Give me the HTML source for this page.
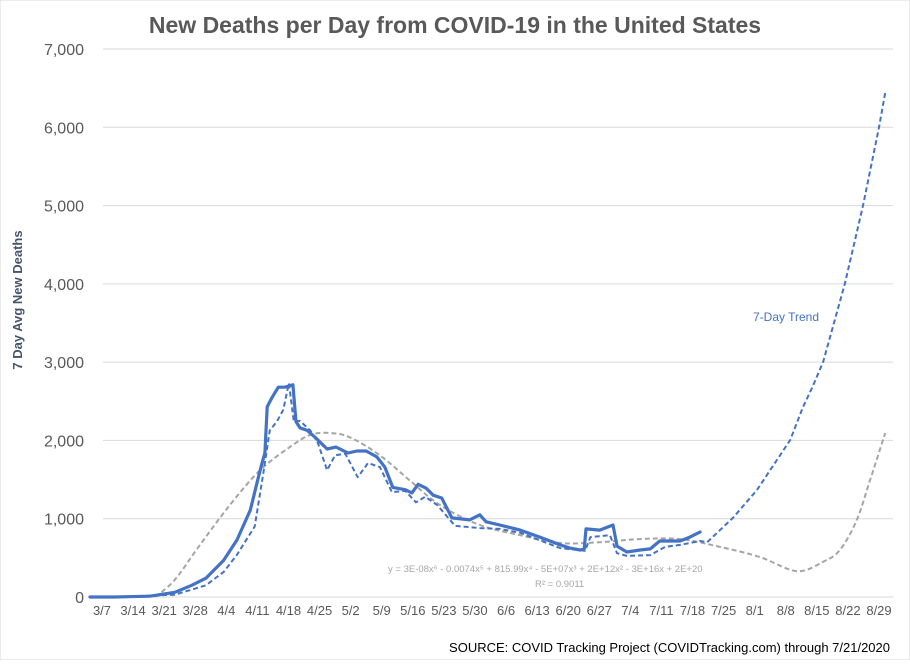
<!DOCTYPE html>
<html><head><meta charset="utf-8"><style>
body{margin:0;background:#fff;font-family:"Liberation Sans",sans-serif;}
svg text{font-family:"Liberation Sans",sans-serif;}
</style></head><body>
<svg id="chart" width="910" height="660" xmlns="http://www.w3.org/2000/svg">
<rect width="910" height="660" fill="#fff" stroke="#d9d9d9"/>
<text x="455" y="33" text-anchor="middle" font-size="23" font-weight="bold" fill="#595959">New Deaths per Day from COVID-19 in the United States</text>
<text transform="translate(22,300) rotate(-90)" text-anchor="middle" font-size="13" font-weight="bold" fill="#44546a">7 Day Avg New Deaths</text>
<g id="grid"></g><g id="yticks"></g><g id="xticks"></g><g id="series"></g>
<text x="753" y="321" font-size="12" fill="#4472c4">7-Day Trend</text>
<text x="388" y="572" font-size="9.5" fill="#a6a6a6">y = 3E-08x⁶ - 0.0074x⁵ + 815.99x⁴ - 5E+07x³ + 2E+12x² - 3E+16x + 2E+20</text>
<text x="535" y="587" font-size="9.5" fill="#a6a6a6">R² = 0.9011</text>
<text x="890" y="652" text-anchor="end" font-size="13" fill="#000">SOURCE: COVID Tracking Project (COVIDTracking.com) through 7/21/2020</text>
</svg>
<script>
const yTicks=[0,1000,2000,3000,4000,5000,6000,7000];
const xLabels=["3/7","3/14","3/21","3/28","4/4","4/11","4/18","4/25","5/2","5/9","5/16","5/23","5/30","6/6","6/13","6/20","6/27","7/4","7/11","7/18","7/25","8/1","8/8","8/15","8/22","8/29"];
const avgDays=[-2.7,2.7,10.8,16.4,20.2,23.4,27.4,30.4,33.4,35.1,36.0,36.7,37.2,38.3,39.7,41.2,43.0,43.7,44.6,46.2,48.0,50.7,52.7,55.4,57.4,59.5,61.9,63.7,65.5,68.3,69.8,71.2,73.0,74.6,76.5,78.8,82.8,85.1,86.5,89.6,94.2,98.6,103.2,105.4,107.7,108.6,109.0,112.1,115.1,116.0,118.2,121.2,123.5,125.6,130.2,132.4,134.7];
const avgVals=[0,0,10,60,150,240,470,730,1110,1500,1700,1840,2430,2550,2680,2680,2710,2240,2160,2130,2040,1890,1915,1840,1865,1865,1790,1660,1400,1370,1330,1440,1390,1300,1265,1010,985,1050,960,920,855,765,665,625,600,610,870,855,920,650,575,600,615,715,715,765,830];
const trendDays=[2.7,16.4,23.4,27.4,30.4,34.4,36.2,37.8,39.4,40.8,42.1,43.2,44.6,46.9,48.6,50.7,52.5,54.8,57.6,59.9,62.6,65.3,68.3,70.7,72.8,75.5,79.5,85.1,89.6,94.2,103.2,108.8,110.0,114.4,116.0,118.2,123.5,126.8,130.2,134.7,136.3,142.1,147.5,152,155,157.9,159.9,162.4,167.3,171.4,175,176.4];
const trendVals=[0,30,150,320,540,900,1530,2130,2240,2390,2730,2240,2250,2130,1970,1620,1810,1830,1530,1710,1660,1340,1355,1210,1280,1175,910,880,870,820,625,590,765,790,560,525,535,640,665,715,700,1010,1365,1750,2005,2430,2670,3000,4000,5000,6000,6440];
const polyDays=[12.0,16.4,22.0,28.8,35.6,42.3,46.9,51.3,55.8,62.6,69.3,76.1,85.1,94.2,103.2,112.1,121.2,130.2,139.2,148.2,156.5,162.4,166.2,170,173,176.4];
const polyVals=[0,220,660,1175,1620,1915,2070,2095,2040,1810,1490,1175,920,790,690,700,740,740,640,510,330,450,600,985,1495,2095];
const NS="http://www.w3.org/2000/svg";
const X=d=>102+d*4.44, Y=v=>597-v*(548/7000);
function mk(t,a,p){const e=document.createElementNS(NS,t);for(const k in a)e.setAttribute(k,a[k]);p.appendChild(e);return e;}
const g=document.getElementById('grid'),yt=document.getElementById('yticks'),xt=document.getElementById('xticks'),s=document.getElementById('series');
yTicks.forEach(v=>{
 const l=mk('line',{x1:103,x2:893,y1:Y(v),y2:Y(v),stroke:'#d9d9d9','stroke-width':1},g);
 
 
 const t=mk('text',{x:84,y:Y(v)+6,'text-anchor':'end','font-size':16,fill:'#595959'},yt);
 t.textContent=v.toLocaleString('en-US');
 
 
});
xLabels.forEach((lab,i)=>{
 const t=mk('text',{x:X(i*7),y:615,'text-anchor':'middle','font-size':13,fill:'#595959'},xt);
 t.textContent=lab;
 
 
});
function pts(d,v){return d.map((x,i)=>X(x).toFixed(1)+','+Y(v[i]).toFixed(1)).join(' ');}
function smooth(d,v){
 const P=d.map((x,i)=>[X(x),Y(v[i])]);
 let s='M'+P[0][0].toFixed(1)+','+P[0][1].toFixed(1);
 for(let i=0;i<P.length-1;i++){
  const p0=P[Math.max(0,i-1)],p1=P[i],p2=P[i+1],p3=P[Math.min(P.length-1,i+2)];
  const c1=[p1[0]+(p2[0]-p0[0])/6,p1[1]+(p2[1]-p0[1])/6],c2=[p2[0]-(p3[0]-p1[0])/6,p2[1]-(p3[1]-p1[1])/6];
  s+=' C'+c1[0].toFixed(1)+','+c1[1].toFixed(1)+' '+c2[0].toFixed(1)+','+c2[1].toFixed(1)+' '+p2[0].toFixed(1)+','+p2[1].toFixed(1);
 }
 return s;
}
const p1=mk('path',{d:smooth(polyDays,polyVals),fill:'none',stroke:'#a5a5a5','stroke-width':2,'stroke-dasharray':'5,3'},s);


const p2=mk('polyline',{points:pts(trendDays,trendVals),fill:'none',stroke:'#4472c4','stroke-width':2,'stroke-dasharray':'5,3','stroke-linejoin':'round'},s);


const p3=mk('polyline',{points:pts(avgDays,avgVals),fill:'none',stroke:'#4472c4','stroke-width':3.2,'stroke-linejoin':'round','stroke-linecap':'round'},s);


</script>
</body></html>
